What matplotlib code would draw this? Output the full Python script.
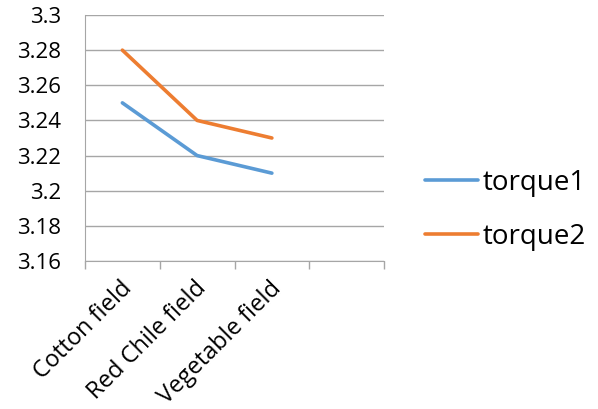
import numpy as np
import matplotlib.pyplot as plt

# field data
fields = ['Cotton field', 'Red Chile field', 'Vegetable field']
torque1 = [3.25, 3.22, 3.21]
torque2 = [3.28, 3.24, 3.23]
yticks = [3.16, 3.18, 3.2, 3.22, 3.24, 3.26, 3.28, 3.3]
n_slots = 4  # axis keeps one empty category slot

plt.rcParams['font.family'] = ['Open Sans', 'DejaVu Sans']

fig = plt.figure(figsize=(5.98, 4.09), dpi=100)
ax = fig.add_axes([85/598, 1 - 261/409, 299/598, 246/409])

x = np.arange(len(fields))
ax.plot(x, torque1, color='#5b9bd5', lw=2.6, label='torque1', solid_capstyle='round')
ax.plot(x, torque2, color='#ed7d31', lw=2.6, label='torque2', solid_capstyle='round')

ax.set_xlim(-0.5, n_slots - 0.5)
ax.set_ylim(3.16, 3.3)
ax.set_yticks(yticks)
ax.set_yticklabels(['%g' % v for v in yticks], fontsize=16)
ax.yaxis.grid(True, color='#a6a6a6', lw=1)
ax.set_axisbelow(True)
ax.tick_params(axis='y', length=0, pad=17)

# category boundaries carry the tick marks, labels sit at the centres
ax.set_xticks(np.arange(n_slots + 1) - 0.5)
ax.set_xticklabels([])
ax.tick_params(axis='x', length=6, color='#a6a6a6', width=1)
for i, name in enumerate(fields):
    ax.annotate(name, xy=(i, 0), xycoords=('data', 'axes fraction'),
                xytext=(-2, -11), textcoords='offset points',
                rotation=45, ha='right', va='top', rotation_mode='anchor',
                fontsize=17)

for s in ['top', 'right']:
    ax.spines[s].set_visible(False)
ax.spines['bottom'].set_color('#a6a6a6')
ax.spines['left'].set_color('#a6a6a6')

fig.legend(loc='center left', bbox_to_anchor=(400/598, 1 - 210/409), frameon=False,
           fontsize=20, handlelength=1.9, handletextpad=0.18, labelspacing=0.95)

fig.savefig('out.png', dpi=100)
